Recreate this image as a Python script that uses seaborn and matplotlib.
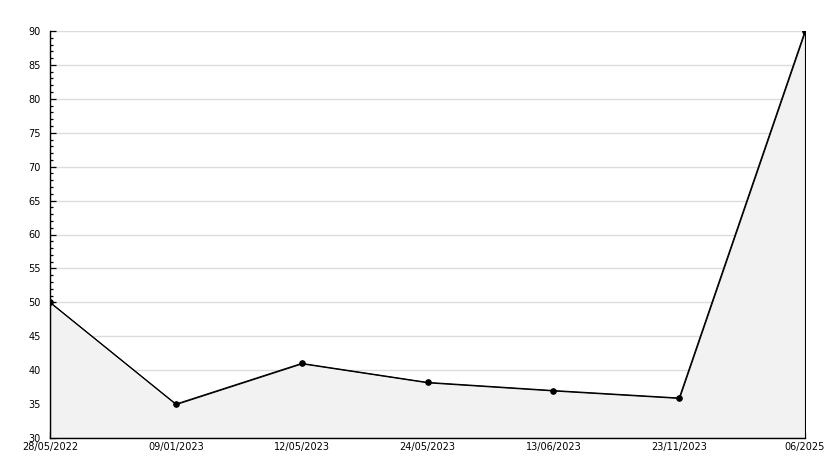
import matplotlib
matplotlib.use("Agg")
import matplotlib.pyplot as plt
import seaborn as sns
import numpy as np
import pandas as pd
from matplotlib.ticker import MultipleLocator

dates = ["28/05/2022", "09/01/2023", "12/05/2023", "24/05/2023", "13/06/2023", "23/11/2023", "06/2025"]
values = [50, 35, 41, 38.2, 37, 35.9, 90]

sns.set_theme(style="white")
plt.rcParams['font.family'] = ['DejaVu Sans']

df = pd.DataFrame({"pos": np.arange(len(dates)), "value": values})

fig = plt.figure(figsize=(8.34, 4.68), dpi=100)
ax = fig.add_axes([50/834, 1 - 438/468, (805-50)/834, (438-31)/468])

ax.fill_between(df["pos"], df["value"], 30, facecolor="#f2f2f2", edgecolor="black", linewidth=0.8, zorder=2)
sns.lineplot(data=df, x="pos", y="value", ax=ax, color="black", linewidth=0.8,
             marker="o", markersize=4, markeredgecolor="black", markerfacecolor="black", zorder=3)

ax.set_xlim(0, len(dates) - 1)
ax.set_ylim(30, 90)
ax.set_xticks(df["pos"])
ax.set_xticklabels(dates)
ax.yaxis.set_major_locator(MultipleLocator(5))
ax.yaxis.set_minor_locator(MultipleLocator(1))
ax.set_xlabel("")
ax.set_ylabel("")

ax.grid(axis="y", which="major", color="#dcdcdc", linewidth=1, zorder=0)
ax.grid(axis="x", visible=False)
ax.set_axisbelow(True)

for s in ["top", "right"]:
    ax.spines[s].set_visible(False)
for s in ["left", "bottom"]:
    ax.spines[s].set_color("black")
    ax.spines[s].set_linewidth(1.0)
    ax.spines[s].set_zorder(4)

ax.tick_params(axis="y", which="major", direction="in", length=4, width=0.9, color="black",
               labelsize=7, pad=6.5, labelcolor="black", left=True)
ax.tick_params(axis="y", which="minor", direction="in", length=2.5, width=0.9, color="black", left=True)
ax.tick_params(axis="x", which="major", direction="in", length=4.5, width=0.9, color="black",
               labelsize=7, pad=3, labelcolor="black", bottom=True)

fig.savefig("out.png", dpi=100, facecolor="white")
